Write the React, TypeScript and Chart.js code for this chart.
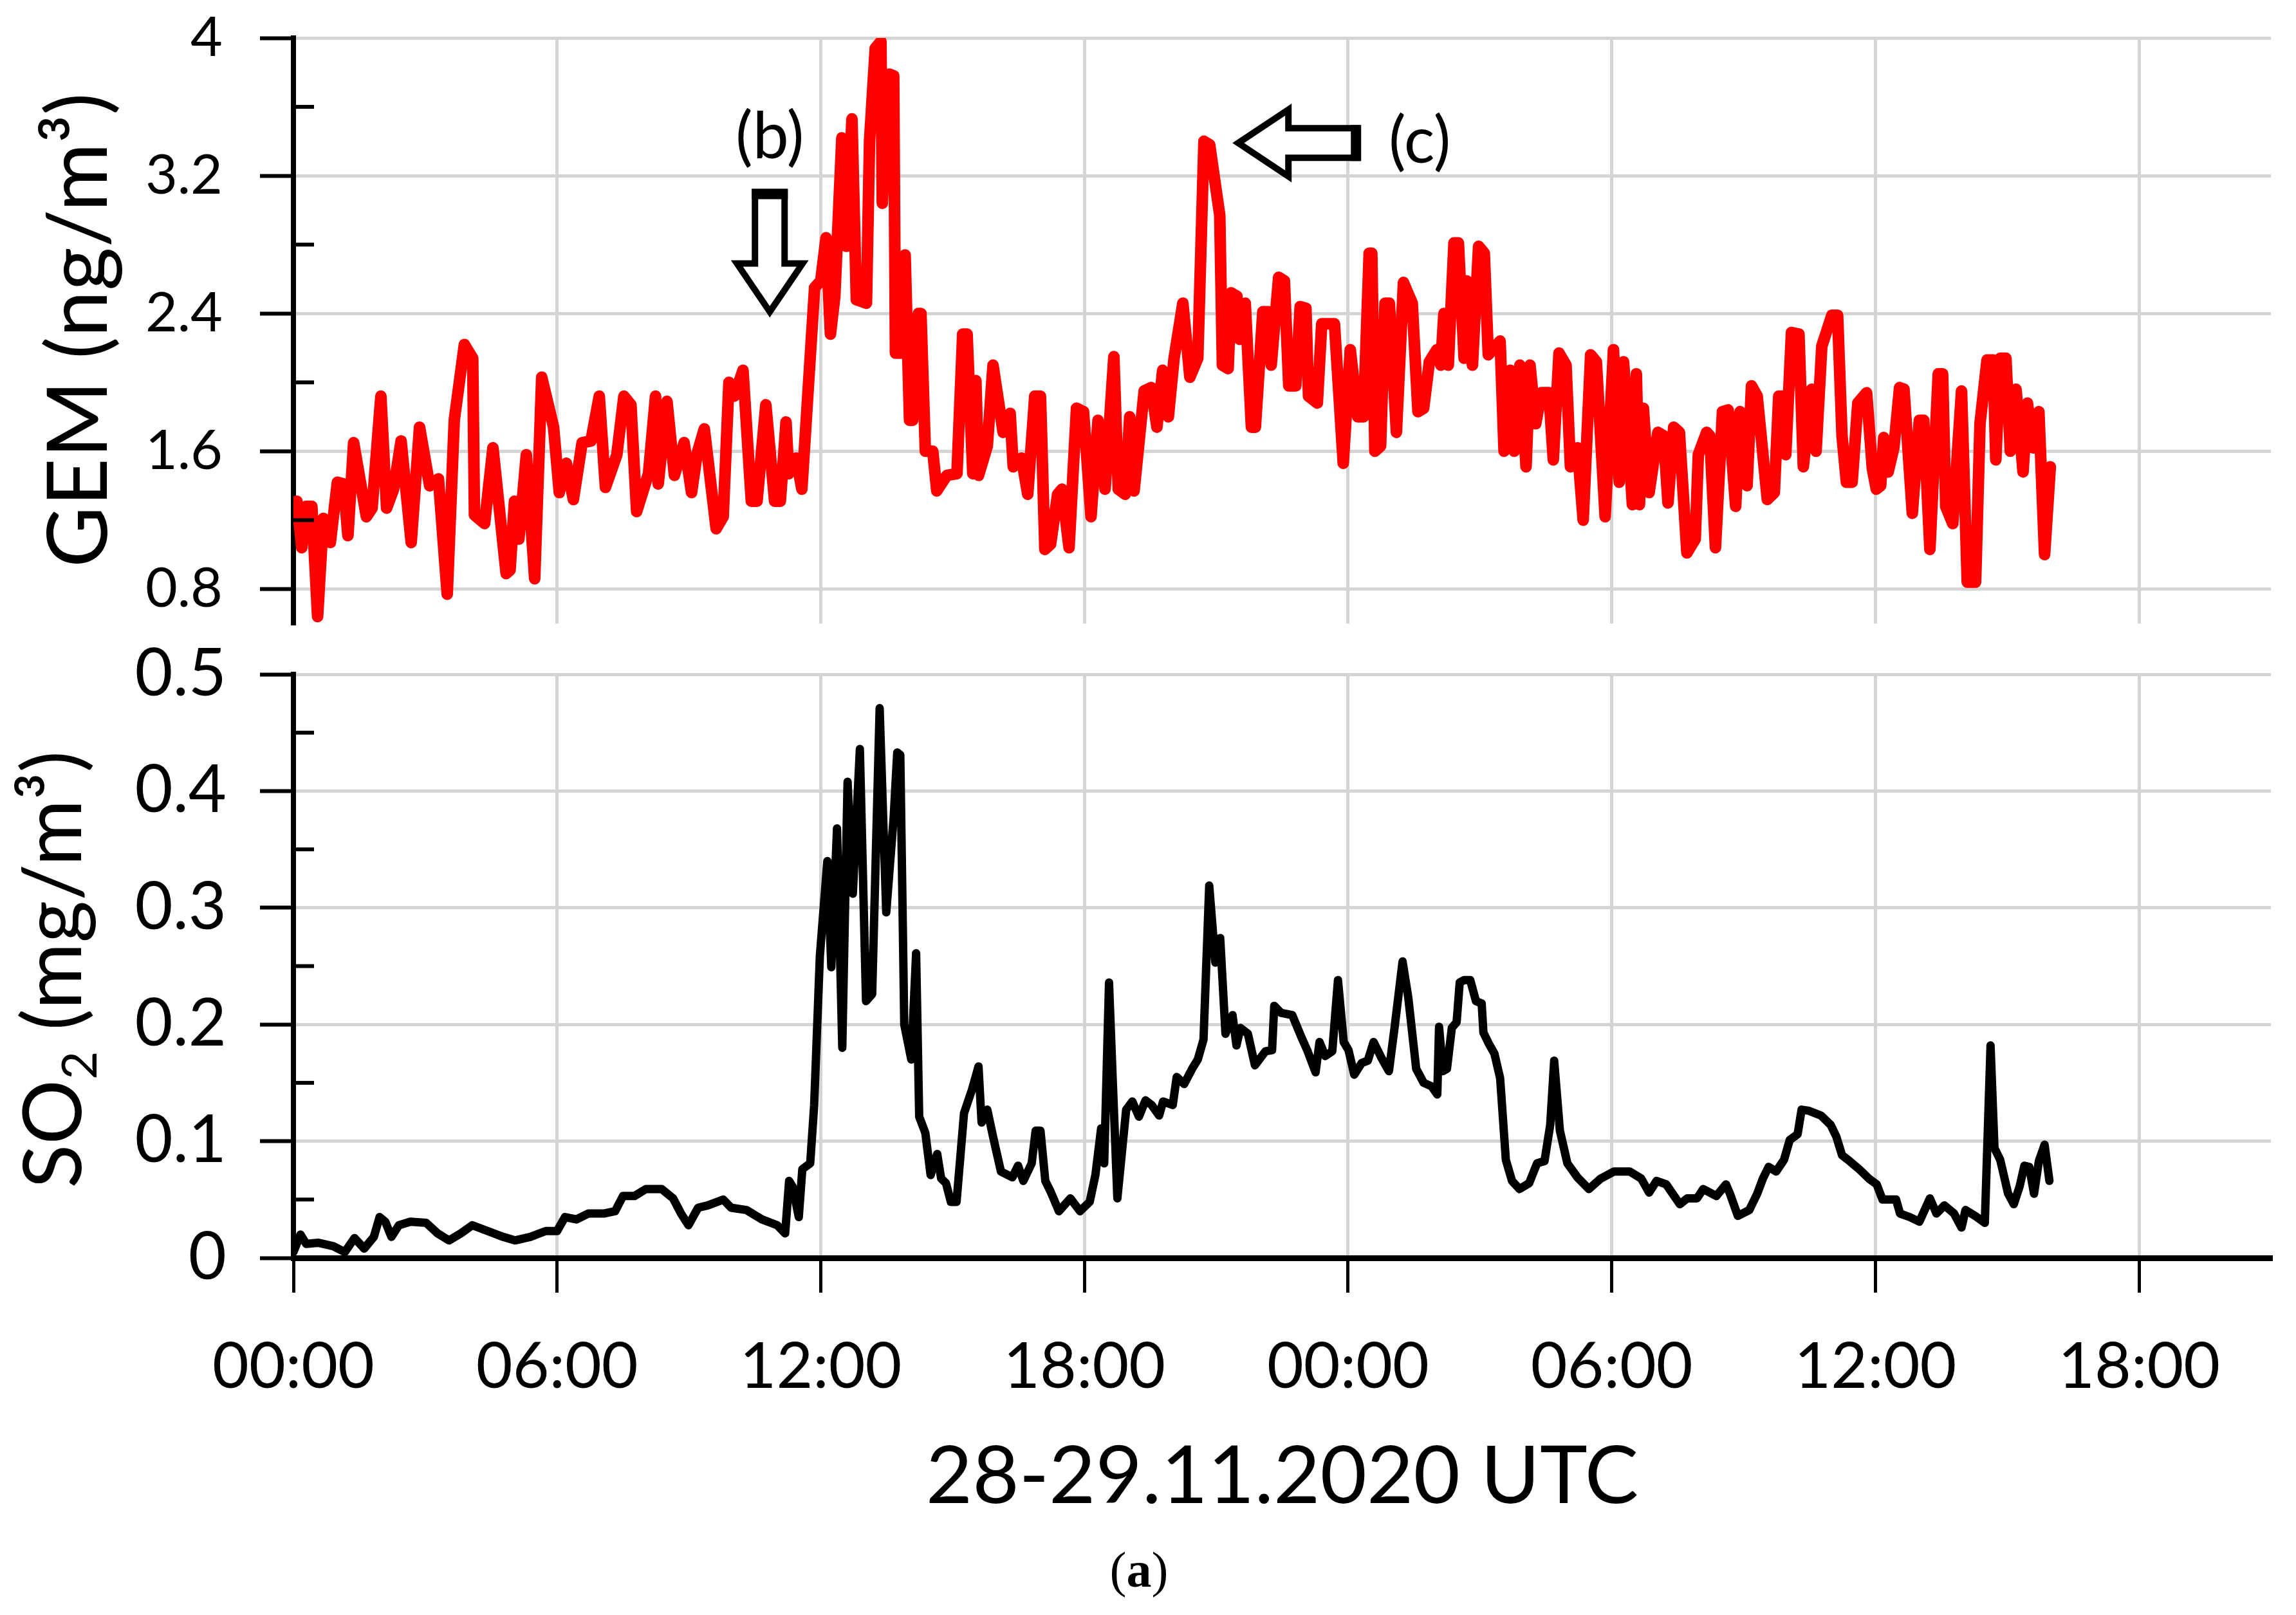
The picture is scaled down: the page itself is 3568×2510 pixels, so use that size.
import React, { useEffect, useRef } from 'react';
import { Chart, registerables } from 'chart.js';

Chart.register(...registerables);

// ---------- data (hours since 28.11.2020 00:00 UTC) ----------
const GEM_HOURS = [
  0, 0.08, 0.19, 0.29, 0.42, 0.55, 0.68, 0.84, 1.0, 1.14, 1.24, 1.37, 1.66, 1.79, 1.99, 2.12, 2.28, 2.45, 2.68, 2.87,
  3.1, 3.3, 3.5, 3.66, 3.89, 4.08, 4.12, 4.35, 4.54, 4.84, 4.93, 5.03, 5.13, 5.3, 5.49, 5.65, 5.92, 6.05, 6.21, 6.37,
  6.57, 6.77, 6.96, 7.1, 7.36, 7.52, 7.68, 7.81, 8.08, 8.24, 8.3, 8.5, 8.67, 8.89, 9.06, 9.19, 9.35, 9.62, 9.78, 9.91,
  10.03, 10.23, 10.42, 10.55, 10.75, 10.95, 11.08, 11.21, 11.27, 11.44, 11.57, 11.86, 12.0, 12.12, 12.22, 12.32, 12.48, 12.58, 12.71, 12.81,
  13.04, 13.11, 13.24, 13.37, 13.4, 13.56, 13.66, 13.7, 13.83, 13.92, 14.02, 14.09, 14.22, 14.28, 14.38, 14.55, 14.64, 14.87, 15.1, 15.23,
  15.33, 15.46, 15.53, 15.59, 15.79, 15.92, 16.15, 16.31, 16.38, 16.57, 16.71, 16.87, 17.0, 17.1, 17.23, 17.39, 17.49, 17.65, 17.82, 17.98,
  18.15, 18.31, 18.47, 18.67, 18.77, 18.93, 19.03, 19.13, 19.36, 19.52, 19.65, 19.78, 19.91, 20.04, 20.24, 20.4, 20.58, 20.72, 20.85, 21.08,
  21.14, 21.27, 21.34, 21.47, 21.53, 21.66, 21.8, 21.89, 22.06, 22.19, 22.25, 22.42, 22.55, 22.65, 22.81, 22.91, 23.04, 23.1, 23.3, 23.4,
  23.53, 23.69, 23.89, 24.05, 24.22, 24.35, 24.48, 24.54, 24.61, 24.74, 24.84, 24.94, 25.1, 25.26, 25.46, 25.59, 25.72, 25.85, 26.02, 26.11,
  26.18, 26.28, 26.41, 26.51, 26.64, 26.7, 26.83, 26.97, 27.1, 27.19, 27.46, 27.55, 27.69, 27.78, 27.91, 28.05, 28.14, 28.27, 28.4, 28.57,
  28.67, 28.8, 28.96, 29.06, 29.22, 29.35, 29.52, 29.65, 29.85, 30.04, 30.17, 30.27, 30.47, 30.56, 30.63, 30.72, 30.85, 31.05, 31.18, 31.28,
  31.41, 31.54, 31.71, 31.9, 31.97, 32.16, 32.23, 32.36, 32.52, 32.65, 32.82, 32.92, 33.08, 33.18, 33.31, 33.54, 33.7, 33.8, 33.9, 33.96,
  34.09, 34.26, 34.36, 34.49, 34.55, 34.65, 34.78, 35.01, 35.14, 35.24, 35.34, 35.47, 35.6, 35.8, 35.93, 36.02, 36.12, 36.19, 36.29, 36.42,
  36.55, 36.65, 36.84, 37.0, 37.1, 37.24, 37.43, 37.53, 37.6, 37.76, 37.96, 38.09, 38.28, 38.38, 38.54, 38.68, 38.74, 38.84, 38.97, 39.07,
  39.2, 39.36, 39.46, 39.59, 39.72, 39.85, 39.98,
];
const GEM_VALUES = [
  1.29, 1.31, 1.04, 1.28, 1.28, 0.64, 1.21, 1.07, 1.42, 1.41, 1.11, 1.65, 1.22, 1.27, 1.92, 1.27, 1.38, 1.66, 1.07, 1.74,
  1.40, 1.44, 0.77, 1.78, 2.22, 2.14, 1.23, 1.18, 1.62, 0.89, 0.91, 1.31, 1.09, 1.58, 0.86, 2.03, 1.74, 1.36, 1.53, 1.32,
  1.65, 1.66, 1.92, 1.39, 1.58, 1.92, 1.87, 1.25, 1.47, 1.92, 1.41, 1.89, 1.46, 1.65, 1.36, 1.59, 1.73, 1.15, 1.22, 2.00,
  1.92, 2.07, 1.31, 1.31, 1.87, 1.31, 1.31, 1.77, 1.47, 1.56, 1.38, 2.55, 2.59, 2.84, 2.28, 2.50, 3.42, 2.79, 3.53, 2.48,
  2.46, 3.40, 3.94, 3.98, 3.04, 3.79, 3.78, 2.17, 2.17, 2.74, 1.78, 1.78, 2.40, 2.40, 1.60, 1.60, 1.37, 1.46, 1.47, 2.28,
  2.28, 1.47, 2.01, 1.46, 1.63, 2.10, 1.71, 1.82, 1.51, 1.56, 1.35, 1.92, 1.92, 1.03, 1.06, 1.35, 1.38, 1.04, 1.85, 1.83,
  1.22, 1.78, 1.38, 2.15, 1.38, 1.35, 1.80, 1.37, 1.95, 1.97, 1.74, 2.07, 1.80, 2.14, 2.46, 2.03, 2.14, 3.40, 3.38, 2.97,
  2.10, 2.08, 2.52, 2.50, 2.25, 2.46, 1.74, 1.74, 2.41, 2.41, 2.10, 2.61, 2.59, 1.98, 1.98, 2.44, 2.43, 1.92, 1.88, 2.34,
  2.34, 2.34, 1.53, 2.19, 1.80, 1.80, 2.75, 2.75, 1.60, 1.63, 2.46, 2.46, 1.71, 2.58, 2.46, 1.83, 1.85, 2.12, 2.19, 2.10,
  2.40, 2.10, 2.81, 2.81, 2.14, 2.59, 2.10, 2.79, 2.75, 2.16, 2.24, 1.60, 2.07, 1.60, 2.10, 1.51, 2.10, 1.76, 1.94, 1.94,
  1.55, 2.17, 2.10, 1.51, 1.62, 1.20, 2.16, 2.12, 1.22, 2.19, 1.42, 2.12, 1.29, 2.05, 1.29, 1.85, 1.36, 1.71, 1.69, 1.30,
  1.74, 1.71, 1.01, 1.09, 1.58, 1.71, 1.69, 1.04, 1.83, 1.84, 1.28, 1.83, 1.40, 1.98, 1.92, 1.32, 1.36, 1.92, 1.92, 1.58,
  2.29, 2.28, 1.51, 1.83, 1.96, 1.60, 2.21, 2.39, 2.39, 1.69, 1.42, 1.42, 1.88, 1.94, 1.50, 1.38, 1.40, 1.68, 1.48, 1.62,
  1.97, 1.96, 1.24, 1.78, 1.78, 1.03, 2.05, 2.05, 1.28, 1.18, 1.95, 0.84, 0.84, 1.76, 2.13, 2.13, 1.55, 2.14, 2.14, 1.60,
  1.96, 1.48, 1.88, 1.62, 1.83, 1.00, 1.51,
];

const SO2_HOURS = [
  0, 0.16, 0.29, 0.56, 0.91, 1.17, 1.39, 1.61, 1.83, 1.96, 2.09, 2.23, 2.4, 2.66, 3.02, 3.28, 3.54, 3.81, 4.07, 4.42,
  4.77, 5.04, 5.39, 5.74, 6.0, 6.18, 6.44, 6.71, 7.06, 7.32, 7.5, 7.76, 8.02, 8.38, 8.64, 8.82, 8.99, 9.21, 9.43, 9.78,
  9.96, 10.31, 10.66, 11.01, 11.19, 11.28, 11.36, 11.5, 11.58, 11.76, 11.85, 11.98, 12.15, 12.24, 12.37, 12.49, 12.61, 12.73, 12.89, 13.03,
  13.17, 13.34, 13.49, 13.66, 13.74, 13.81, 13.9, 14.06, 14.17, 14.24, 14.38, 14.5, 14.65, 14.74, 14.85, 14.96, 15.09, 15.26, 15.44, 15.59,
  15.66, 15.79, 15.92, 16.1, 16.36, 16.49, 16.61, 16.8, 16.89, 17.0, 17.11, 17.24, 17.42, 17.68, 17.9, 18.12, 18.25, 18.38, 18.45, 18.56,
  18.65, 18.75, 18.87, 18.95, 19.09, 19.24, 19.39, 19.53, 19.7, 19.79, 20.01, 20.1, 20.27, 20.45, 20.58, 20.71, 20.84, 20.98, 21.09, 21.21,
  21.37, 21.46, 21.55, 21.72, 21.88, 22.12, 22.27, 22.32, 22.47, 22.73, 22.95, 23.08, 23.26, 23.35, 23.48, 23.64, 23.77, 23.9, 24.01, 24.14,
  24.31, 24.45, 24.58, 24.75, 24.93, 25.06, 25.24, 25.37, 25.55, 25.72, 25.9, 26.03, 26.07, 26.16, 26.25, 26.36, 26.47, 26.54, 26.64, 26.78,
  26.91, 27.04, 27.08, 27.21, 27.33, 27.46, 27.59, 27.73, 27.9, 28.12, 28.3, 28.47, 28.6, 28.69, 28.82, 28.99, 29.22, 29.48, 29.75, 30.05,
  30.41, 30.67, 30.85, 31.02, 31.24, 31.55, 31.72, 31.94, 32.08, 32.38, 32.6, 32.69, 32.87, 33.13, 33.31, 33.44, 33.57, 33.74, 33.92, 34.05,
  34.23, 34.32, 34.49, 34.76, 34.98, 35.11, 35.24, 35.41, 35.63, 35.85, 36.03, 36.16, 36.47, 36.56, 36.78, 37.0, 37.24, 37.39, 37.57, 37.79,
  37.96, 38.05, 38.27, 38.49, 38.62, 38.71, 38.84, 39.02, 39.15, 39.28, 39.39, 39.5, 39.61, 39.72, 39.85, 39.96,
];
const SO2_VALUES = [
  0.005, 0.020, 0.012, 0.013, 0.010, 0.005, 0.017, 0.008, 0.018, 0.035, 0.031, 0.018, 0.028, 0.031, 0.030, 0.021, 0.015, 0.021, 0.028, 0.023,
  0.018, 0.015, 0.018, 0.023, 0.023, 0.035, 0.033, 0.038, 0.038, 0.040, 0.053, 0.053, 0.059, 0.059, 0.051, 0.038, 0.028, 0.043, 0.045, 0.050,
  0.043, 0.041, 0.033, 0.028, 0.021, 0.066, 0.061, 0.035, 0.076, 0.081, 0.131, 0.259, 0.340, 0.249, 0.368, 0.180, 0.408, 0.312, 0.436, 0.220,
  0.226, 0.471, 0.296, 0.378, 0.433, 0.431, 0.200, 0.170, 0.261, 0.121, 0.107, 0.071, 0.089, 0.068, 0.064, 0.048, 0.048, 0.124, 0.144, 0.164,
  0.116, 0.127, 0.104, 0.074, 0.069, 0.079, 0.066, 0.081, 0.109, 0.109, 0.066, 0.056, 0.040, 0.051, 0.040, 0.048, 0.071, 0.111, 0.081, 0.236,
  0.147, 0.051, 0.097, 0.127, 0.134, 0.121, 0.135, 0.131, 0.122, 0.134, 0.131, 0.155, 0.149, 0.162, 0.170, 0.187, 0.319, 0.253, 0.274, 0.192,
  0.208, 0.182, 0.197, 0.192, 0.165, 0.177, 0.178, 0.216, 0.210, 0.208, 0.188, 0.177, 0.159, 0.185, 0.173, 0.177, 0.238, 0.185, 0.178, 0.157,
  0.167, 0.169, 0.185, 0.172, 0.160, 0.198, 0.254, 0.223, 0.162, 0.150, 0.147, 0.140, 0.198, 0.160, 0.162, 0.197, 0.202, 0.236, 0.238, 0.238,
  0.220, 0.218, 0.193, 0.183, 0.175, 0.154, 0.084, 0.066, 0.059, 0.064, 0.081, 0.083, 0.114, 0.169, 0.109, 0.081, 0.069, 0.059, 0.068, 0.074,
  0.074, 0.068, 0.056, 0.066, 0.063, 0.046, 0.051, 0.051, 0.059, 0.053, 0.063, 0.055, 0.036, 0.041, 0.055, 0.068, 0.078, 0.074, 0.084, 0.101,
  0.106, 0.127, 0.126, 0.122, 0.114, 0.104, 0.088, 0.083, 0.076, 0.068, 0.063, 0.050, 0.050, 0.038, 0.035, 0.031, 0.051, 0.038, 0.045, 0.038,
  0.026, 0.041, 0.036, 0.030, 0.182, 0.094, 0.084, 0.055, 0.046, 0.061, 0.079, 0.078, 0.055, 0.083, 0.097, 0.066,
];

const X_TICK_VALUES = [0, 6, 12, 18, 24, 30, 36, 42];
const X_TICK_LABELS = ['00:00', '06:00', '12:00', '18:00', '00:00', '06:00', '12:00', '18:00'];
const GEM_TICKS = [0.8, 1.6, 2.4, 3.2, 4];
const GEM_MINOR = [1.2, 2.0, 2.8, 3.6];
const SO2_TICKS = [0, 0.1, 0.2, 0.3, 0.4, 0.5];
const SO2_MINOR = [0.05, 0.15, 0.25, 0.35, 0.45];
// annotation anchors [hour, value]
const ARROW_B = [10.84, 2.41];
const ARROW_C = [21.5, 3.39];

// ---------- styling ----------
const W = 3568;
const TOP_H = 1000;
const BOT_TOP = 1000;
const BOT_H = 1510;
const FONT = "Lato, 'Noto Sans', sans-serif";
const GRID = '#d4d4d4';

const toPoints = (xs: number[], ys: number[]) => xs.map((x, i) => ({ x, y: ys[i] }));
const fmt = (v: number) => String(Math.round(v * 100) / 100);

function drawMinor(chart: any, values: number[]) {
  const { ctx, chartArea, scales } = chart;
  ctx.save();
  ctx.strokeStyle = '#000';
  ctx.lineWidth = 6;
  values.forEach((v) => {
    const py = scales.y.getPixelForValue(v);
    ctx.beginPath();
    ctx.moveTo(chartArea.left, py);
    ctx.lineTo(chartArea.left + 32, py);
    ctx.stroke();
  });
  ctx.restore();
}

const topDecor = {
  id: 'topDecor',
  afterDraw(chart: any) {
    const { ctx, scales } = chart;
    drawMinor(chart, GEM_MINOR);
    ctx.save();
    // y title
    ctx.fillStyle = '#000';
    ctx.translate(166, 513);
    ctx.rotate(-Math.PI / 2);
    ctx.font = `130px ${FONT}`;
    ctx.textAlign = 'center';
    ctx.textBaseline = 'alphabetic';
    ctx.fillText('GEM (ng/m³)', 0, 0);
    ctx.restore();

    ctx.save();
    ctx.strokeStyle = '#000';
    ctx.fillStyle = '#fff';
    ctx.lineWidth = 10;
    ctx.lineJoin = 'miter';
    // arrow (b)
    const bx = scales.x.getPixelForValue(ARROW_B[0]);
    const by = scales.y.getPixelForValue(ARROW_B[1]);
    ctx.beginPath();
    ctx.moveTo(bx, by);
    ctx.lineTo(bx - 51, by - 75);
    ctx.lineTo(bx - 23, by - 75);
    ctx.lineTo(bx - 23, by - 186);
    ctx.lineTo(bx + 23, by - 186);
    ctx.lineTo(bx + 23, by - 75);
    ctx.lineTo(bx + 51, by - 75);
    ctx.closePath();
    ctx.fill();
    ctx.stroke();
    ctx.fillStyle = '#000';
    ctx.fillRect(bx - 28, by - 191, 56, 16);
    // arrow (c)
    const cx = scales.x.getPixelForValue(ARROW_C[0]);
    const cy = scales.y.getPixelForValue(ARROW_C[1]);
    ctx.fillStyle = '#fff';
    ctx.beginPath();
    ctx.moveTo(cx, cy);
    ctx.lineTo(cx + 78, cy - 52);
    ctx.lineTo(cx + 78, cy - 23);
    ctx.lineTo(cx + 185, cy - 23);
    ctx.lineTo(cx + 185, cy + 23);
    ctx.lineTo(cx + 78, cy + 23);
    ctx.lineTo(cx + 78, cy + 52);
    ctx.closePath();
    ctx.fill();
    ctx.stroke();
    ctx.fillStyle = '#000';
    ctx.fillRect(cx + 175, cy - 28, 16, 56);
    // labels
    ctx.font = `100px ${FONT}`;
    ctx.textAlign = 'center';
    ctx.textBaseline = 'middle';
    ctx.fillText('(b)', bx, by - 271);
    ctx.fillText('(c)', cx + 282, cy - 2);
    ctx.restore();
  },
};

const bottomDecor = {
  id: 'bottomDecor',
  afterDraw(chart: any) {
    const { ctx, chartArea } = chart;
    drawMinor(chart, SO2_MINOR);
    // y title with subscript
    ctx.save();
    ctx.fillStyle = '#000';
    ctx.translate(126, 507);
    ctx.rotate(-Math.PI / 2);
    ctx.textAlign = 'left';
    ctx.textBaseline = 'alphabetic';
    const big = `126px ${FONT}`;
    const small = `76px ${FONT}`;
    ctx.font = big;
    const w1 = ctx.measureText('SO').width;
    const w3 = ctx.measureText(' (mg/m³)').width;
    ctx.font = small;
    const w2 = ctx.measureText('2').width;
    let x0 = -(w1 + w2 + w3) / 2;
    ctx.font = big;
    ctx.fillText('SO', x0, 0);
    x0 += w1;
    ctx.font = small;
    ctx.fillText('2', x0, 24);
    x0 += w2;
    ctx.font = big;
    ctx.fillText(' (mg/m³)', x0, 0);
    ctx.restore();

    // x title
    ctx.save();
    ctx.fillStyle = '#000';
    ctx.font = `125px ${FONT}`;
    ctx.textAlign = 'center';
    ctx.textBaseline = 'alphabetic';
    ctx.fillText('28-29.11.2020 UTC', (chartArea.left + chartArea.right) / 2, 1336);

    // caption (a)
    ctx.textBaseline = 'middle';
    ctx.textAlign = 'left';
    const serif = "'Liberation Serif', 'DejaVu Serif', serif";
    const cs = 78;
    ctx.font = `${cs}px ${serif}`;
    const p1 = ctx.measureText('(').width;
    const p3 = ctx.measureText(')').width;
    ctx.font = `bold ${cs}px ${serif}`;
    const p2 = ctx.measureText('a').width;
    let ax = 1770 - (p1 + p2 + p3) / 2;
    ctx.font = `${cs}px ${serif}`;
    ctx.fillText('(', ax, 1446);
    ax += p1;
    ctx.font = `bold ${cs}px ${serif}`;
    ctx.fillText('a', ax, 1446);
    ax += p2;
    ctx.font = `${cs}px ${serif}`;
    ctx.fillText(')', ax, 1446);
    ctx.restore();
  },
};

function App() {
  const topRef = useRef<HTMLCanvasElement>(null);
  const botRef = useRef<HTMLCanvasElement>(null);

  useEffect(() => {
    const xTicks = (s: any) => {
      s.ticks = X_TICK_VALUES.map((v) => ({ value: v }));
    };
    const top = new Chart(topRef.current as HTMLCanvasElement, {
      type: 'line',
      data: {
        datasets: [
          {
            label: 'GEM',
            data: toPoints(GEM_HOURS, GEM_VALUES),
            borderColor: '#ff0000',
            backgroundColor: '#ff0000',
            borderWidth: 18,
            pointRadius: 0,
            tension: 0,
            borderJoinStyle: 'round',
            borderCapStyle: 'round',
          },
        ],
      },
      options: {
        animation: false,
        responsive: false,
        devicePixelRatio: 1,
        layout: { padding: { left: 0, right: 39, top: 59, bottom: 31 } },
        plugins: { legend: { display: false }, tooltip: { enabled: false } },
        scales: {
          x: {
            type: 'linear',
            min: 0,
            max: 45,
            afterBuildTicks: xTicks,
            ticks: { display: false },
            grid: { color: GRID, lineWidth: 5, drawTicks: false },
            border: { display: false },
            afterFit: (s: any) => {
              s.height = 0;
              s.paddingLeft = 0;
              s.paddingRight = 0;
            },
          },
          y: {
            type: 'linear',
            min: 0.6,
            max: 4,
            afterBuildTicks: (s: any) => {
              s.ticks = GEM_TICKS.map((v) => ({ value: v }));
            },
            ticks: {
              color: '#000',
              font: { family: FONT, size: 86 },
              padding: 58,
              callback: (v: any) => fmt(Number(v)),
            },
            grid: { color: GRID, lineWidth: 5, tickColor: '#000', tickWidth: 6, tickLength: 52 },
            border: { color: '#000', width: 8 },
            afterFit: (s: any) => {
              s.width = 456;
              s.paddingTop = 0;
              s.paddingBottom = 0;
            },
          },
        },
      } as any,
      plugins: [topDecor],
    });

    const bottom = new Chart(botRef.current as HTMLCanvasElement, {
      type: 'line',
      data: {
        datasets: [
          {
            label: 'SO2',
            data: toPoints(SO2_HOURS, SO2_VALUES),
            borderColor: '#000000',
            backgroundColor: '#000000',
            borderWidth: 13,
            pointRadius: 0,
            tension: 0,
            borderJoinStyle: 'round',
            borderCapStyle: 'round',
          },
        ],
      },
      options: {
        animation: false,
        responsive: false,
        devicePixelRatio: 1,
        layout: { padding: { left: 0, right: 39, top: 48, bottom: 0 } },
        plugins: { legend: { display: false }, tooltip: { enabled: false } },
        scales: {
          x: {
            type: 'linear',
            min: 0,
            max: 45,
            afterBuildTicks: xTicks,
            ticks: {
              color: '#000',
              font: { family: FONT, size: 98 },
              padding: 58,
              maxRotation: 0,
              autoSkip: false,
              callback: (_v: any, i: number) => X_TICK_LABELS[i],
            },
            grid: { color: GRID, lineWidth: 5, tickColor: '#000', tickWidth: 5, tickLength: 54 },
            border: { color: '#000', width: 9 },
            afterFit: (s: any) => {
              s.height = BOT_H - 955;
              s.paddingLeft = 0;
              s.paddingRight = 0;
            },
          },
          y: {
            type: 'linear',
            min: 0,
            max: 0.5,
            afterBuildTicks: (s: any) => {
              s.ticks = SO2_TICKS.map((v) => ({ value: v }));
            },
            ticks: {
              color: '#000',
              font: { family: FONT, size: 102 },
              padding: 52,
              callback: (v: any) => fmt(Number(v)),
            },
            grid: { color: GRID, lineWidth: 5, tickColor: '#000', tickWidth: 6, tickLength: 52 },
            border: { color: '#000', width: 8 },
            afterFit: (s: any) => {
              s.width = 456;
              s.paddingTop = 0;
              s.paddingBottom = 0;
            },
          },
        },
      } as any,
      plugins: [bottomDecor],
    });

    return () => {
      top.destroy();
      bottom.destroy();
    };
  }, []);

  return (
    <div style={{ position: 'absolute', left: 0, top: 0, width: W, height: 2510, background: '#fff' }}>
      <canvas ref={topRef} width={W} height={TOP_H} style={{ position: 'absolute', left: 0, top: 0, width: W, height: TOP_H }} />
      <canvas ref={botRef} width={W} height={BOT_H} style={{ position: 'absolute', left: 0, top: BOT_TOP, width: W, height: BOT_H }} />
    </div>
  );
}

export default App;
